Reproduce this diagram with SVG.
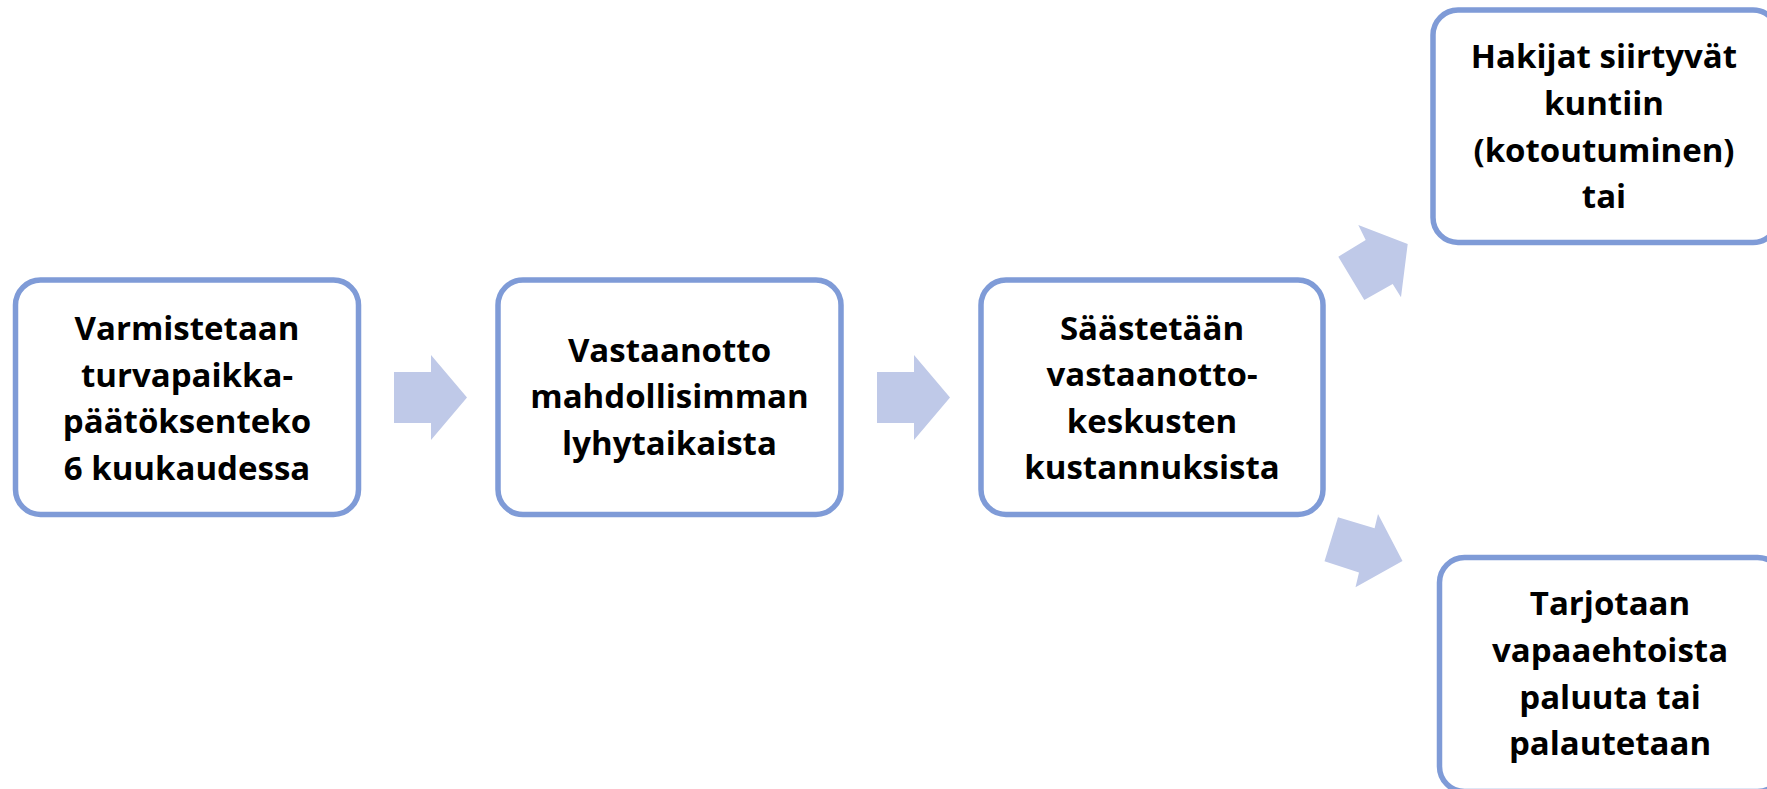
<svg xmlns="http://www.w3.org/2000/svg" width="1767" height="789" viewBox="0 0 1767 789">
<style>
.box{fill:#ffffff;stroke:#7f9bd7;stroke-width:5.5}
.arr{fill:#bfc9e8;stroke:none}
.t{font-family:"Open Sans","Liberation Sans",sans-serif;font-weight:700;font-size:33px;fill:#000000;text-anchor:middle}
</style>
<rect width="1767" height="789" fill="#ffffff"/>
<g id="connectors">
<polygon class="arr" points="394,372 431,372 431,355 467,397.5 431,440 431,423 394,423"/>
<polygon class="arr" points="877,372 914,372 914,355 950,397.5 914,440 914,423 877,423"/>
<polygon class="arr" points="1338.3,256.7 1365.7,240 1358.3,225 1407.7,244 1401,297.3 1392.7,284 1364.3,300"/>
<polygon class="arr" points="1338,517.3 1374.6,528.3 1378,514 1402.5,561 1355.5,587.3 1359,572.5 1324.5,561.2"/>
</g>
<g id="node1">
<rect class="box" x="15.5" y="280" width="343" height="234.5" rx="25"/>
<text class="t" x="187" y="340">Varmistetaan</text>
<text class="t" x="187" y="386.5">turvapaikka-</text>
<text class="t" x="187" y="433">päätöksenteko</text>
<text class="t" x="187" y="479.5">6 kuukaudessa</text>
</g>
<g id="node2">
<rect class="box" x="498" y="280" width="343" height="234.5" rx="25"/>
<text class="t" x="669.5" y="361.7">Vastaanotto</text>
<text class="t" x="669.5" y="408.3">mahdollisimman</text>
<text class="t" x="669.5" y="455">lyhytaikaista</text>
</g>
<g id="node3">
<rect class="box" x="981" y="280" width="342" height="234.5" rx="25"/>
<text class="t" x="1152" y="339.5">Säästetään</text>
<text class="t" x="1152" y="386">vastaanotto-</text>
<text class="t" x="1152" y="432.5">keskusten</text>
<text class="t" x="1152" y="479">kustannuksista</text>
</g>
<g id="node4">
<rect class="box" x="1433" y="10" width="345" height="232.5" rx="25"/>
<text class="t" x="1604" y="68">Hakijat siirtyvät</text>
<text class="t" x="1604" y="115">kuntiin</text>
<text class="t" x="1604" y="161.5">(kotoutuminen)</text>
<text class="t" x="1604" y="208">tai</text>
</g>
<g id="node5">
<rect class="box" x="1439.5" y="557.5" width="343" height="234" rx="25"/>
<text class="t" x="1610" y="615">Tarjotaan</text>
<text class="t" x="1610" y="661.7">vapaaehtoista</text>
<text class="t" x="1610" y="708.5">paluuta tai</text>
<text class="t" x="1610" y="755">palautetaan</text>
</g>
</svg>
